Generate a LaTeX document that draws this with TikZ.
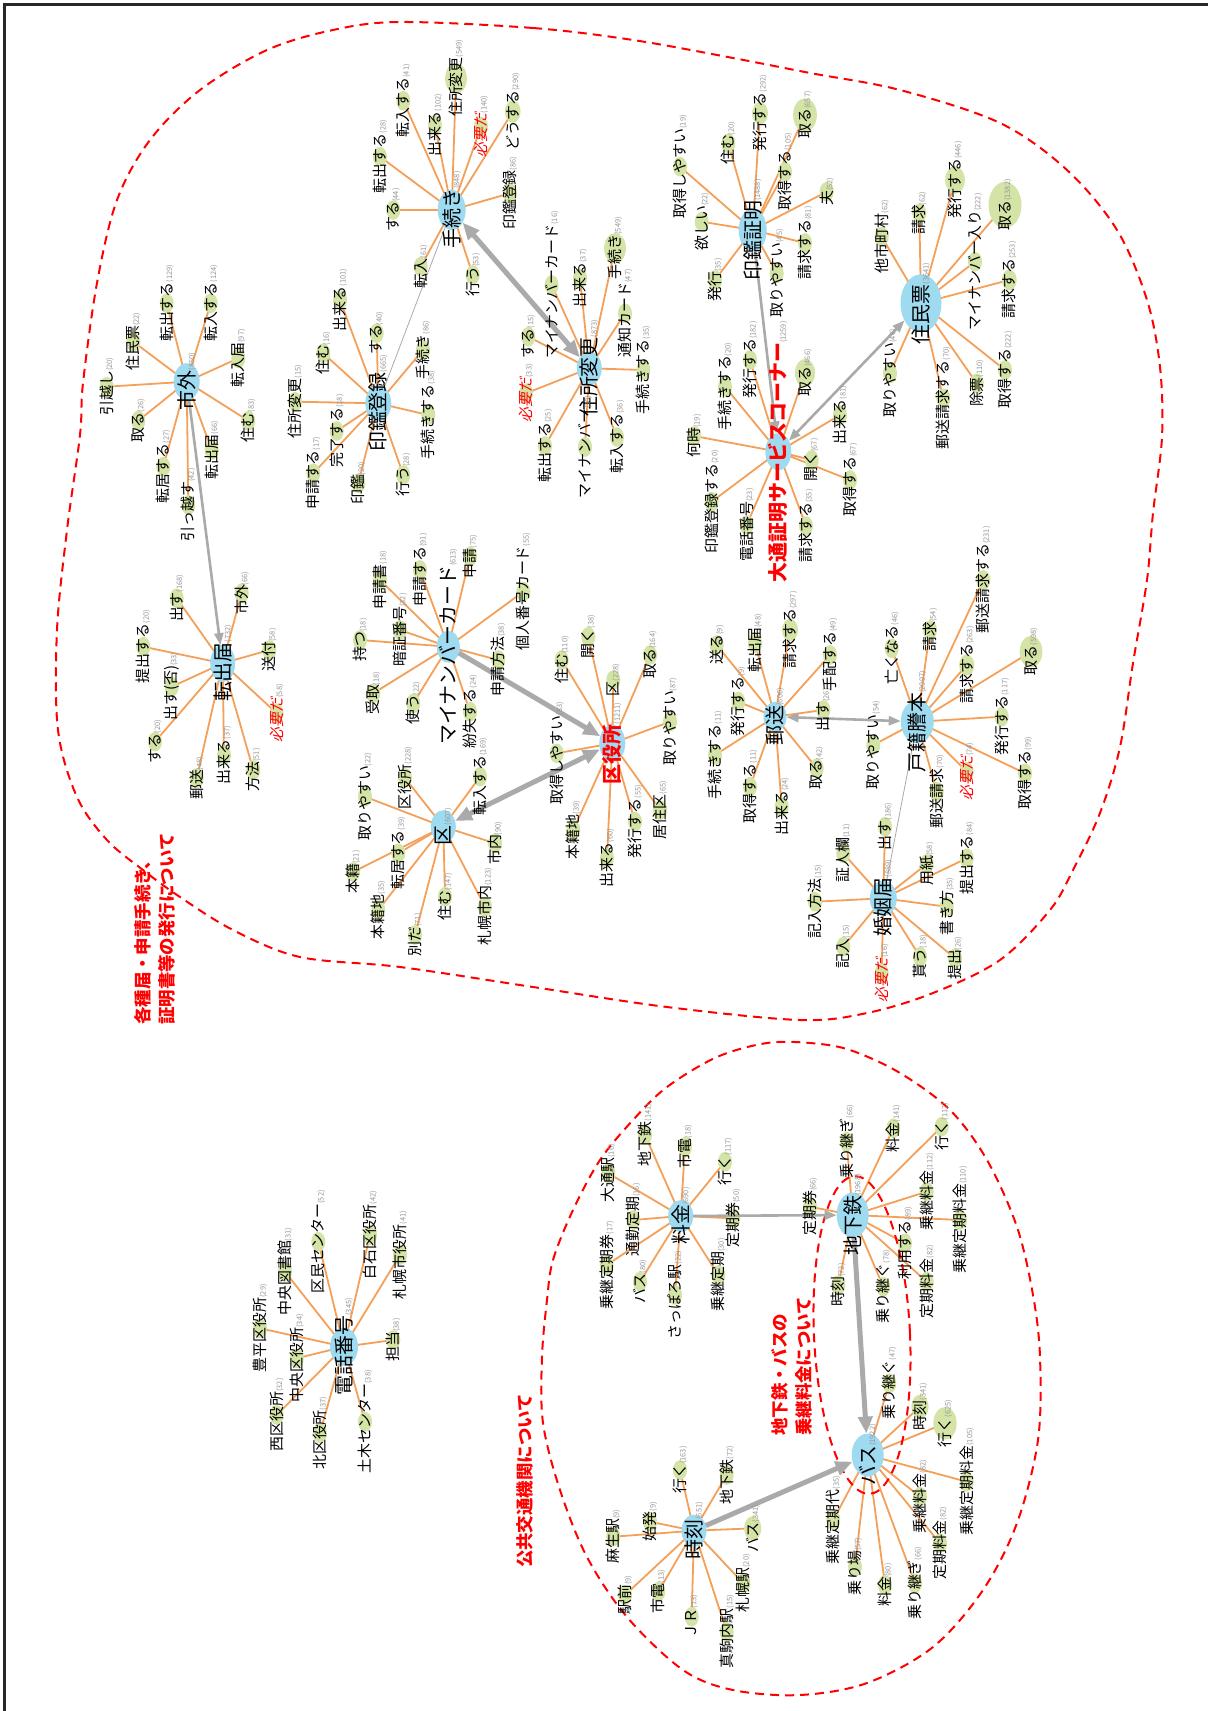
\documentclass[tikz,border=0pt]{standalone}
\usepackage{fontspec}
\setmainfont{Noto Sans CJK JP}
\newfontfamily\slantfont[FakeSlant=0.2]{Noto Sans CJK JP}
\usetikzlibrary{shapes.geometric,arrows.meta}
\pgfdeclarelayer{bg}\pgfdeclarelayer{fg}\pgfsetlayers{bg,main,fg}
\definecolor{hubblue}{RGB}{158,218,240}
\definecolor{leafgreen}{RGB}{212,228,166}
\definecolor{edgeorange}{RGB}{244,160,88}
\definecolor{arrowgray}{RGB}{170,170,170}
\definecolor{countgray}{RGB}{150,150,150}
\definecolor{framecol}{RGB}{40,40,40}
\tikzset{
 hubnode/.style={ellipse, fill=hubblue, inner sep=0pt, outer sep=0pt},
 leafnode/.style={ellipse, fill=leafgreen, inner sep=0pt, outer sep=0pt},
 leaflab/.style={rotate=90, inner sep=0pt, font=\fontsize{15}{15}\selectfont},
 hublab/.style={rotate=90, inner sep=0pt, font=\fontsize{20}{20}\selectfont},
 tie/.style={draw=edgeorange, line width=1.8bp},
 bigarrow/.style={draw=arrowgray, line width=5bp, -{Triangle[length=17bp,width=14bp]}},
 bigboth/.style={draw=arrowgray, line width=5bp, {Triangle[length=17bp,width=14bp]}-{Triangle[length=17bp,width=14bp]}},
 smallarrow/.style={draw=arrowgray, line width=2.6bp, -{Triangle[length=12bp,width=9bp]}},
 smallboth/.style={draw=arrowgray, line width=2.6bp, {Triangle[length=12bp,width=9bp]}-{Triangle[length=12bp,width=9bp]}},
 hairline/.style={draw=arrowgray, line width=0.8bp},
 boundary/.style={draw=red, line width=2bp, dash pattern=on 9bp off 6bp},
 titletext/.style={rotate=90, text=red, font=\fontsize{17.5}{24}\selectfont\bfseries, align=left, inner sep=0pt},
}
\newcommand\cnt[1]{{\mdseries\fontsize{7.5}{7.5}\selectfont\color{countgray}(#1)}}
\newcommand\needtext{\textcolor{red}{\slantfont 必要だ}}
\newcommand\redbold[1]{\textcolor{red}{\bfseries #1}}
\newcommand\leafat[6]{%
 \node[leafnode, minimum width=#4bp, minimum height=1.4*#4bp] (#1) at (#2,#3) {};
 \begin{pgfonlayer}{fg}\node[leaflab] at (#2,#3) {#5\cnt{#6}};\end{pgfonlayer}}
\newcommand\hubat[7]{%
 \node[hubnode, minimum width=#4bp, minimum height=#5bp] (#1) at (#2,#3) {};
 \begin{pgfonlayer}{fg}\node[hublab] at (#2,#3) {#6\cnt{#7}};\end{pgfonlayer}}
\newcommand\spokes[2]{\begin{pgfonlayer}{bg}\foreach \n in {#2}{\draw[tie] (#1.center) -- (\n.center);}\end{pgfonlayer}}
\begin{document}
\begin{tikzpicture}[x=1bp,y=-1bp]
\begin{pgfonlayer}{bg}
\fill[white] (0,0) rectangle (1208,1711);
\end{pgfonlayer}
\useasboundingbox (0,0) rectangle (1208,1711);
\draw[framecol, line width=2.5bp] (4.5,1711) -- (4.5,4.5) -- (1208,4.5);

% ---------- boundaries ----------
\draw[boundary] plot[smooth cycle, tension=0.55] coordinates {
 (400,22) (533,28) (633,40) (733,58) (810,73) (900,90) (1000,123) (1067,170)
 (1117,230) (1147,300) (1160,367) (1162,437) (1153,513) (1147,580) (1133,663)
 (1120,747) (1100,813) (1073,870) (1050,910) (1000,960) (933,993) (867,1013)
 (800,1020) (667,1007) (533,987) (400,967) (300,957) (233,930) (180,897)
 (143,870) (107,840) (77,797) (58,730) (57,630) (67,530) (80,435) (83,383)
 (97,283) (117,200) (150,140) (200,90) (267,50) (333,30)};
\draw[boundary] plot[smooth cycle, tension=0.55] coordinates {
 (547,1300) (553,1260) (573,1210) (600,1160) (633,1120) (667,1087) (717,1057)
 (767,1043) (810,1043) (850,1050) (900,1073) (950,1110) (987,1160) (1017,1227)
 (1033,1295) (1040,1357) (1038,1440) (1017,1523) (983,1590) (933,1647)
 (867,1683) (800,1695) (733,1690) (683,1670) (627,1617) (587,1557) (560,1490)
 (543,1423) (542,1357)};
\draw[boundary, rotate around={2.7:(862,1335)}] (862,1335) ellipse [x radius=48bp, y radius=159bp];

% ---------- titles ----------
\node[titletext, anchor=west] (t1) at (155,1025) {各種届・申請手続き、\\証明書等の発行について};
\node[titletext] (t2) at (525,1481) {公共交通機関について};
\node[titletext, anchor=west] (t3) at (791.5,1436) {地下鉄・バスの\\乗継料金について};

% ---------- 市外 ----------
\hubat{sg}{186.7}{381.7}{26}{37}{市外}{850}
\leafat{a1}{106.7}{386.7}{14}{引越し}{20}
\leafat{a2}{133.3}{341.7}{14}{住民票}{22}
\leafat{a3}{166.7}{303.3}{14}{転出する}{129}
\leafat{a4}{210.7}{303.3}{14}{転入する}{124}
\leafat{a5}{238.3}{358.3}{14}{転入届}{97}
\leafat{a6}{248.3}{420.7}{14}{住む}{83}
\leafat{a7}{138.3}{420.7}{14}{取る}{26}
\leafat{a8}{163.3}{466.7}{14}{転居する}{27}
\leafat{a9}{188.3}{505}{14}{引っ越す}{42}
\leafat{a10}{211.7}{450}{14}{転出届}{66}
\spokes{sg}{a1,a2,a3,a4,a5,a6,a7,a8,a9,a10}

% ---------- 転出届 ----------
\hubat{tsd}{222.7}{663.3}{25}{37}{転出届}{732}
\leafat{b1}{176.7}{598.3}{14}{出す}{168}
\leafat{b2}{241.7}{593.3}{14}{市外}{66}
\leafat{b3}{269.3}{650}{14}{送付}{58}
\leafat{b4}{276.7}{713.3}{14}{\needtext}{58}
\leafat{b5}{253.3}{770}{14}{方法}{51}
\leafat{b6}{224}{755}{14}{出来る}{37}
\leafat{b7}{196.7}{778.3}{14}{郵送}{48}
\leafat{b8}{155}{741.7}{14}{する}{20}
\leafat{b9}{171.7}{686.7}{14}{出す(否)}{33}
\leafat{b10}{143.3}{646.7}{14}{提出する}{20}
\spokes{tsd}{b1,b2,b3,b4,b5,b6,b7,b8,b9,b10}

% ---------- 手続き ----------
\hubat{tk}{451.7}{210}{28}{40}{手続き}{848}
\leafat{c1}{393.3}{210}{14}{する}{44}
\leafat{c2}{380}{156.7}{14}{転出する}{28}
\leafat{c3}{403.3}{100.8}{14}{転入する}{41}
\leafat{c4}{435}{125}{14}{出来る}{102}
\leafat{c5}{456}{78.3}{21.8}{住所変更}{549}
\leafat{c6}{481}{126.7}{14}{\needtext}{140}
\leafat{c7}{512.7}{111.7}{15.8}{どうする}{290}
\leafat{c8}{510}{193.3}{14}{印鑑登録}{86}
\leafat{c9}{420.7}{266.7}{14}{転入}{61}
\leafat{c10}{472.7}{275}{14}{行う}{53}
\spokes{tk}{c1,c2,c3,c4,c5,c6,c7,c8,c9,c10}

% ---------- 印鑑登録 ----------
\hubat{ik}{378.3}{403.3}{26}{36}{印鑑登録}{665}
\leafat{d1}{340}{300}{14}{出来る}{101}
\leafat{d2}{376.7}{333.3}{14}{する}{40}
\leafat{d3}{323.3}{353.3}{14}{住む}{16}
\leafat{d4}{295}{401.7}{14}{住所変更}{15}
\leafat{d5}{336.7}{431}{14}{完了する}{18}
\leafat{d6}{313.3}{473.3}{14}{申請する}{17}
\leafat{d7}{358.3}{483.3}{14}{印鑑}{20}
\leafat{d8}{403.3}{475}{14}{行う}{28}
\leafat{d9}{428.3}{415}{14}{手続きする}{38}
\leafat{d10}{423}{350}{14}{手続き}{86}
\spokes{ik}{d1,d2,d3,d4,d5,d6,d7,d8,d9,d10}

% ---------- 住所変更 ----------
\hubat{jh}{589.3}{368.3}{25}{33}{住所変更}{873}
\leafat{e1}{551.7}{285}{14}{マイナンバーカード}{16}
\leafat{e2}{580}{278.3}{14}{出来る}{37}
\leafat{e3}{615}{248.3}{21.8}{手続き}{549}
\leafat{e4}{625}{313.3}{14}{通知カード}{47}
\leafat{e5}{643.3}{370}{14}{手続きする}{35}
\leafat{e6}{528.3}{336.7}{14}{する}{15}
\leafat{e7}{526}{393.3}{14}{\needtext}{33}
\leafat{e8}{545}{446}{14}{転出する}{25}
\leafat{e9}{585}{447}{14}{マイナンバー}{30}
\leafat{e10}{617}{437}{14}{転入する}{36}
\spokes{jh}{e1,e2,e3,e4,e5,e6,e7,e8,e9,e10}

% ---------- 印鑑証明 ----------
\hubat{is}{752.7}{230}{28}{43}{印鑑証明}{1488}
\leafat{f1}{680}{166.7}{14}{取得しやすい}{19}
\leafat{f2}{701.7}{221.7}{14}{欲しい}{22}
\leafat{f3}{728.3}{143.3}{14}{住む}{20}
\leafat{f4}{760}{113.3}{15.9}{発行する}{292}
\leafat{f5}{785}{171.7}{14}{取得する}{105}
\leafat{f6}{805}{115}{23.8}{取る}{657}
\leafat{f7}{826.7}{191.7}{14}{夫}{52}
\leafat{f8}{805}{243}{14}{請求する}{81}
\leafat{f9}{776.7}{273.3}{14}{取りやすい}{45}
\leafat{f10}{715}{280}{14}{発行}{35}
\spokes{is}{f1,f2,f3,f4,f5,f6,f7,f8,f9,f10}

% ---------- 大通証明サービスコーナー ----------
\hubat{od}{778.3}{451.7}{26}{37}{\redbold{大通証明サービスコーナー}}{1259}
\leafat{g1}{694}{436}{14}{何時}{19}
\leafat{g2}{711.7}{501.7}{14}{印鑑登録する}{20}
\leafat{g3}{746.7}{525}{14}{電話番号}{23}
\leafat{g4}{806}{526}{14}{請求する}{35}
\leafat{g5}{811.7}{460}{14}{開く}{67}
\leafat{g6}{850}{480}{14}{取得する}{67}
\leafat{g7}{840}{415}{14}{出来る}{81}
\leafat{g8}{725}{386.7}{14}{手続きする}{20}
\leafat{g9}{750}{360}{14}{発行する}{182}
\leafat{g10}{805}{373}{20.1}{取る}{466}
\spokes{od}{g1,g2,g3,g4,g5,g6,g7,g8,g9,g10}

% ---------- 住民票 ----------
\hubat{jm}{921}{303.3}{41}{58}{住民票}{3641}
\leafat{h1}{881.7}{236.7}{14}{他市町村}{62}
\leafat{h2}{919.3}{213.3}{14}{請求}{62}
\leafat{h3}{955}{180}{19.6}{発行する}{446}
\leafat{h4}{1005}{205}{33}{取る}{1382}
\leafat{h5}{975}{261.7}{14}{マイナンバー入り}{222}
\leafat{h6}{1009.3}{280}{14.8}{請求する}{253}
\leafat{h7}{1005}{370}{14}{取得する}{222}
\leafat{h8}{976.7}{383.3}{14}{除票}{110}
\leafat{h9}{943.3}{398.3}{14}{郵送請求する}{70}
\leafat{h10}{890}{373.3}{14}{取りやすい}{46}
\spokes{jm}{h1,h2,h3,h4,h5,h6,h7,h8,h9,h10}

% ---------- マイナンバーカード ----------
\hubat{mc}{448.3}{646.7}{23}{32}{マイナンバーカード}{613}
\leafat{i1}{360}{640}{14}{持つ}{18}
\leafat{i2}{380}{580}{14}{申請書}{18}
\leafat{i3}{400}{630}{14}{暗証番号}{32}
\leafat{i4}{373.3}{693.3}{14}{受取}{18}
\leafat{i5}{413.3}{703.3}{14}{使う}{22}
\leafat{i6}{420}{570}{14}{申請する}{91}
\leafat{i7}{470}{556.7}{14}{申請}{75}
\leafat{i8}{523.3}{591.7}{14}{個人番号カード}{55}
\leafat{i9}{498.3}{660}{14}{申請方法}{38}
\leafat{i10}{470}{711.7}{14}{紛失する}{24}
\spokes{mc}{i1,i2,i3,i4,i5,i6,i7,i8,i9,i10}

% ---------- 区役所 ----------
\hubat{ky}{612.3}{743.3}{26}{37}{\redbold{区役所}}{1211}
\leafat{j1}{561.7}{660}{14}{住む}{110}
\leafat{j2}{588.3}{636.7}{14}{開く}{38}
\leafat{j3}{613.3}{680}{14}{区}{228}
\leafat{j4}{650}{655}{14}{取る}{164}
\leafat{j5}{670}{721.7}{14}{取りやすい}{87}
\leafat{j6}{660}{810}{14}{居住区}{65}
\leafat{j7}{635}{821.7}{14}{発行する}{55}
\leafat{j8}{607}{858}{14}{出来る}{60}
\leafat{j9}{573.3}{830}{14}{本籍地}{39}
\leafat{j10}{556.7}{753.3}{14}{取得しやすい}{83}
\spokes{ky}{j1,j2,j3,j4,j5,j6,j7,j8,j9,j10}

% ---------- 区 ----------
\hubat{ku}{443.3}{826.7}{25}{33}{区}{607}
\leafat{k1}{405}{778}{14}{区役所}{228}
\leafat{k2}{365}{796.7}{14}{取りやすい}{22}
\leafat{k3}{398.3}{853.3}{14}{転居する}{39}
\leafat{k4}{353}{872}{14}{本籍}{21}
\leafat{k5}{378.3}{910}{14}{本籍地}{35}
\leafat{k6}{415}{935}{14}{別だ}{71}
\leafat{k7}{445}{896.7}{14}{住む}{147}
\leafat{k8}{485}{906.7}{14}{札幌市内}{123}
\leafat{k9}{495}{843.3}{14}{市内}{90}
\leafat{k10}{480}{776.7}{14}{転入する}{169}
\spokes{ku}{k1,k2,k3,k4,k5,k6,k7,k8,k9,k10}

% ---------- 郵送 ----------
\hubat{yu}{775}{716.7}{23}{30}{郵送}{606}
\leafat{l1}{716.7}{645}{14}{送る}{9}
\leafat{l2}{755}{643.3}{14}{転出届}{48}
\leafat{l3}{790}{630}{16}{請求する}{297}
\leafat{l4}{738.3}{701.7}{14}{発行する}{9}
\leafat{l5}{715}{755}{14}{手続きする}{11}
\leafat{l6}{750}{786.7}{14}{取得する}{11}
\leafat{l7}{781.7}{806.7}{14}{出来る}{24}
\leafat{l8}{816.7}{768.3}{14}{取る}{42}
\leafat{l9}{823.3}{710}{14}{出す}{26}
\leafat{l10}{830}{655}{14}{手配する}{49}
\spokes{yu}{l1,l2,l3,l4,l5,l6,l7,l8,l9,l10}

% ---------- 戸籍謄本 ----------
\hubat{kt}{917.3}{721.7}{33}{43}{戸籍謄本}{2097}
\leafat{m1}{891.7}{648.3}{14}{亡くなる}{46}
\leafat{m2}{930}{630}{14}{請求}{54}
\leafat{m3}{983.3}{580}{14.1}{郵送請求する}{231}
\leafat{m4}{966.7}{665}{15.1}{請求する}{263}
\leafat{m5}{1031}{651.7}{22.7}{取る}{598}
\leafat{m6}{1001.7}{716.7}{14}{発行する}{117}
\leafat{m7}{1025}{773.3}{14}{取得する}{99}
\leafat{m8}{966.7}{771.7}{14}{\needtext}{74}
\leafat{m9}{936.7}{791.7}{14}{郵送請求}{70}
\leafat{m10}{873.3}{745}{14}{取りやすい}{54}
\spokes{kt}{m1,m2,m3,m4,m5,m6,m7,m8,m9,m10}

% ---------- 婚姻届 ----------
\hubat{kk}{883.3}{898.3}{27}{35}{婚姻届}{889}
\leafat{n1}{843.3}{853.3}{14}{証人欄}{11}
\leafat{n2}{885}{826.7}{14}{出す}{186}
\leafat{n3}{926.7}{864}{14}{用紙}{58}
\leafat{n4}{966.7}{858.3}{14}{提出する}{84}
\leafat{n5}{815}{901.7}{14}{記入方法}{15}
\leafat{n6}{843.3}{946.7}{14}{記入}{15}
\leafat{n7}{881.7}{973.3}{14}{\needtext}{16}
\leafat{n8}{920}{956.7}{14}{貰う}{18}
\leafat{n9}{955}{958.3}{14}{提出}{26}
\leafat{n10}{946.7}{906.7}{14}{書き方}{35}
\spokes{kk}{n1,n2,n3,n4,n5,n6,n7,n8,n9,n10}

% ---------- 電話番号 ----------
\hubat{dw}{344}{1346.7}{28}{38}{電話番号}{345}
\leafat{o1}{285}{1271.7}{14}{中央図書館}{31}
\leafat{o2}{318.3}{1241.7}{14}{区民センター}{52}
\leafat{o3}{370}{1235}{14}{白石区役所}{42}
\leafat{o4}{400}{1255}{14}{札幌市役所}{41}
\leafat{o5}{260}{1328.3}{14}{豊平区役所}{29}
\leafat{o6}{296.7}{1358.3}{14}{中央区役所}{34}
\leafat{o7}{276.7}{1415}{14}{西区役所}{32}
\leafat{o8}{320}{1433.3}{14}{北区役所}{37}
\leafat{o9}{365}{1421.7}{14}{土木センター}{38}
\leafat{o10}{393.3}{1340}{14}{担当}{38}
\spokes{dw}{o1,o2,o3,o4,o5,o6,o7,o8,o9,o10}

% ---------- 料金 ----------
\hubat{rk}{680.7}{1216}{25}{32}{料金}{690}
\leafat{p1}{608.3}{1173.3}{14}{大通駅}{16}
\leafat{p2}{645}{1135}{14}{地下鉄}{141}
\leafat{p3}{685}{1146.7}{14}{市電}{18}
\leafat{p4}{725}{1161.7}{14}{行く}{117}
\leafat{p5}{733.3}{1218.3}{14}{定期券}{50}
\leafat{p6}{633.3}{1220}{14}{通勤定期}{16}
\leafat{p7}{606.7}{1265}{14}{乗継定期券}{17}
\leafat{p8}{640}{1281.7}{14}{バス}{80}
\leafat{p9}{675}{1295}{14}{さっぽろ駅}{22}
\leafat{p10}{718.3}{1275}{14}{乗継定期}{30}
\spokes{rk}{p1,p2,p3,p4,p5,p6,p7,p8,p9,p10}

% ---------- 地下鉄 ----------
\hubat{ct}{852.7}{1215}{32}{45}{地下鉄}{1968}
\leafat{q1}{846.7}{1141.7}{14}{乗り継ぎ}{66}
\leafat{q2}{893.3}{1128.3}{14}{料金}{141}
\leafat{q3}{941.7}{1126.7}{14}{行く}{112}
\leafat{q4}{926.7}{1191.7}{14}{乗継料金}{112}
\leafat{q5}{960}{1220}{14}{乗継定期料金}{110}
\leafat{q6}{905}{1243.3}{14}{利用する}{89}
\leafat{q7}{926.7}{1281.7}{14}{定期料金}{82}
\leafat{q8}{883.3}{1286.7}{14}{乗り継ぐ}{78}
\leafat{q9}{838.3}{1285}{14}{時刻}{72}
\leafat{q10}{810}{1206.7}{14}{定期券}{66}
\spokes{ct}{q1,q2,q3,q4,q5,q6,q7,q8,q9,q10}

% ---------- バス ----------
\hubat{bs}{867.7}{1455}{32}{43}{バス}{1922}
\leafat{r1}{889.3}{1383.3}{14}{乗り継ぐ}{47}
\leafat{r2}{920}{1406.7}{17.2}{時刻}{341}
\leafat{r3}{945}{1423.3}{23.3}{行く}{625}
\leafat{r4}{966.7}{1481.7}{14}{乗継定期料金}{105}
\leafat{r5}{920}{1496.7}{14}{乗継料金}{82}
\leafat{r6}{940}{1543.3}{14}{定期料金}{82}
\leafat{r7}{915}{1583.3}{14}{乗り継ぎ}{66}
\leafat{r8}{885}{1585}{14}{料金}{80}
\leafat{r9}{855}{1566.7}{14}{乗り場}{57}
\leafat{r10}{833.3}{1520}{14}{乗継定期代}{35}
\spokes{bs}{r1,r2,r3,r4,r5,r6,r7,r8,r9,r10}

% ---------- 時刻 ----------
\hubat{jk}{694}{1530.7}{25}{32}{時刻}{651}
\leafat{s1}{680}{1470}{14}{行く}{163}
\leafat{s2}{726.7}{1475}{14}{地下鉄}{72}
\leafat{s3}{650}{1521.7}{14}{始発}{9}
\leafat{s4}{613.3}{1536.7}{14}{麻生駅}{9}
\leafat{s5}{752.7}{1528.3}{17.2}{バス}{341}
\leafat{s6}{625}{1595}{14}{駅前}{9}
\leafat{s7}{658.3}{1591.7}{14}{市電}{13}
\leafat{s8}{691.7}{1616.7}{14}{ＪＲ}{13}
\leafat{s9}{726.7}{1631.7}{14}{真駒内駅}{15}
\leafat{s10}{743.3}{1583.3}{14}{札幌駅}{20}
\spokes{jk}{s1,s2,s3,s4,s5,s6,s7,s8,s9,s10}

% ---------- links between hubs ----------
\draw[smallarrow] (sg) -- (tsd);
\draw[bigboth] (tk) -- (jh);
\draw[smallarrow] (is) -- (od);
\draw[smallboth] (jm) -- (od);
\draw[bigarrow] (mc) -- (ky);
\draw[bigboth] (ku) -- (ky);
\draw[smallboth] (yu) -- (kt);
\draw[smallarrow] (rk) -- (ct);
\draw[bigarrow] (ct) -- (bs);
\draw[bigarrow] (jk) -- (bs);
\draw[hairline] (ik) -- (tk);
\draw[hairline] (kt) -- (kk);
\end{tikzpicture}
\end{document}
